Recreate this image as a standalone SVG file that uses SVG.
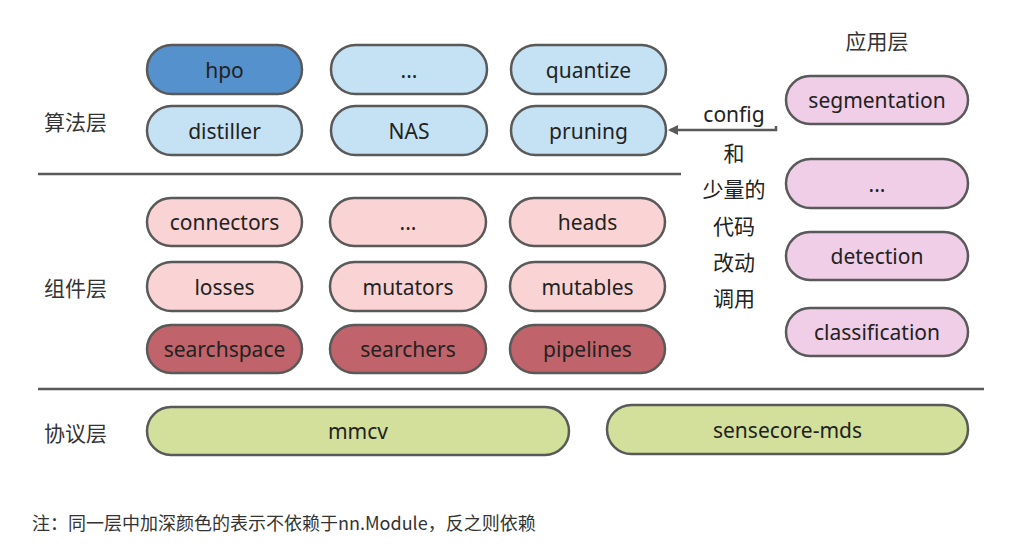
<svg xmlns="http://www.w3.org/2000/svg" width="1009" height="555" viewBox="0 0 1009 555">
<style>
.p{stroke:#595959;stroke-width:2.5}
.t{font-family:"Noto Sans","Noto Sans CJK SC",sans-serif;font-size:21px;fill:#222;text-anchor:middle;dominant-baseline:central}
.v{font-family:"Noto Sans CJK SC",sans-serif;font-size:21px;fill:#222;text-anchor:middle;dominant-baseline:central}
.c{font-family:"Noto Sans CJK SC",sans-serif;font-size:21px;fill:#333;dominant-baseline:central}
.lb{fill:#c5e2f4}.db{fill:#5591cc}.lp{fill:#fad4d4}.dr{fill:#c0636a}.pp{fill:#f0cee7}.gr{fill:#d3e09c}
.sep{stroke:#595959;stroke-width:2.5}
</style>
<defs>
<marker id="ah" markerWidth="10" markerHeight="10" refX="8" refY="5" orient="auto" markerUnits="userSpaceOnUse"><path d="M0,0 L10,5 L0,10 Z" fill="#595959"/></marker>
</defs>
<rect width="1009" height="555" fill="#fff"/>
<g id="labels">
<text class="c" x="44" y="121">算法层</text>
<text class="c" x="44" y="287">组件层</text>
<text class="c" x="44" y="432">协议层</text>
<text class="c" x="877" y="40" text-anchor="middle">应用层</text>
<text class="c" x="32" y="522" style="font-size:18px">注：同一层中加深颜色的表示不依赖于nn.Module，反之则依赖</text>
</g>
<g id="separators">
<line class="sep" x1="38" y1="174" x2="681" y2="174"/>
<line class="sep" x1="38" y1="389" x2="984" y2="389"/>
</g>
<g id="hpo"><rect class="p db" x="147" y="45" width="155" height="49" rx="24.5"/><text class="t" x="224.5" y="69.5">hpo</text></g>
<g id="algo-etc"><rect class="p lb" x="331" y="45" width="156" height="49" rx="24.5"/><text class="t" x="409" y="69.5">...</text></g>
<g id="quantize"><rect class="p lb" x="511" y="45" width="155" height="49" rx="24.5"/><text class="t" x="588.5" y="69.5">quantize</text></g>
<g id="distiller"><rect class="p lb" x="147" y="106" width="155" height="49" rx="24.5"/><text class="t" x="224.5" y="130.5">distiller</text></g>
<g id="nas"><rect class="p lb" x="331" y="106" width="156" height="49" rx="24.5"/><text class="t" x="409" y="130.5">NAS</text></g>
<g id="pruning"><rect class="p lb" x="511" y="106" width="155" height="49" rx="24.5"/><text class="t" x="588.5" y="130.5">pruning</text></g>
<g id="connectors"><rect class="p lp" x="147" y="198" width="155" height="48" rx="24"/><text class="t" x="224.5" y="222">connectors</text></g>
<g id="comp-etc"><rect class="p lp" x="330" y="198" width="156" height="48" rx="24"/><text class="t" x="408" y="222">...</text></g>
<g id="heads"><rect class="p lp" x="510" y="198" width="155" height="48" rx="24"/><text class="t" x="587.5" y="222">heads</text></g>
<g id="losses"><rect class="p lp" x="147" y="262" width="155" height="49" rx="24.5"/><text class="t" x="224.5" y="286.5">losses</text></g>
<g id="mutators"><rect class="p lp" x="330" y="262" width="156" height="49" rx="24.5"/><text class="t" x="408" y="286.5">mutators</text></g>
<g id="mutables"><rect class="p lp" x="510" y="262" width="155" height="49" rx="24.5"/><text class="t" x="587.5" y="286.5">mutables</text></g>
<g id="searchspace"><rect class="p dr" x="147" y="325" width="155" height="48" rx="24"/><text class="t" x="224.5" y="349">searchspace</text></g>
<g id="searchers"><rect class="p dr" x="330" y="325" width="156" height="48" rx="24"/><text class="t" x="408" y="349">searchers</text></g>
<g id="pipelines"><rect class="p dr" x="510" y="325" width="155" height="48" rx="24"/><text class="t" x="587.5" y="349">pipelines</text></g>
<g id="mmcv"><rect class="p gr" x="147" y="407" width="422" height="48" rx="24"/><text class="t" x="358" y="431">mmcv</text></g>
<g id="sensecore-mds"><rect class="p gr" x="607" y="405" width="361" height="49" rx="24.5"/><text class="t" x="787.5" y="429.5">sensecore-mds</text></g>
<g id="segmentation"><rect class="p pp" x="786" y="76" width="182" height="48" rx="24"/><text class="t" x="877" y="100">segmentation</text></g>
<g id="app-etc"><rect class="p pp" x="786" y="159" width="182" height="49" rx="24.5"/><text class="t" x="877" y="183.5">...</text></g>
<g id="detection"><rect class="p pp" x="786" y="232" width="182" height="48" rx="24"/><text class="t" x="877" y="256">detection</text></g>
<g id="classification"><rect class="p pp" x="786" y="308" width="182" height="48" rx="24"/><text class="t" x="877" y="332">classification</text></g>
<g id="connectors-edges">
<path d="M776,126 L776,130 L670,130" fill="none" stroke="#595959" stroke-width="2.5" marker-end="url(#ah)"/>
<text class="t" x="734" y="114">config</text>
<text class="v" x="734" y="152">和</text>
<text class="v" x="734" y="188">少量的</text>
<text class="v" x="734" y="225">代码</text>
<text class="v" x="734" y="261">改动</text>
<text class="v" x="734" y="297">调用</text>
</g>
</svg>
